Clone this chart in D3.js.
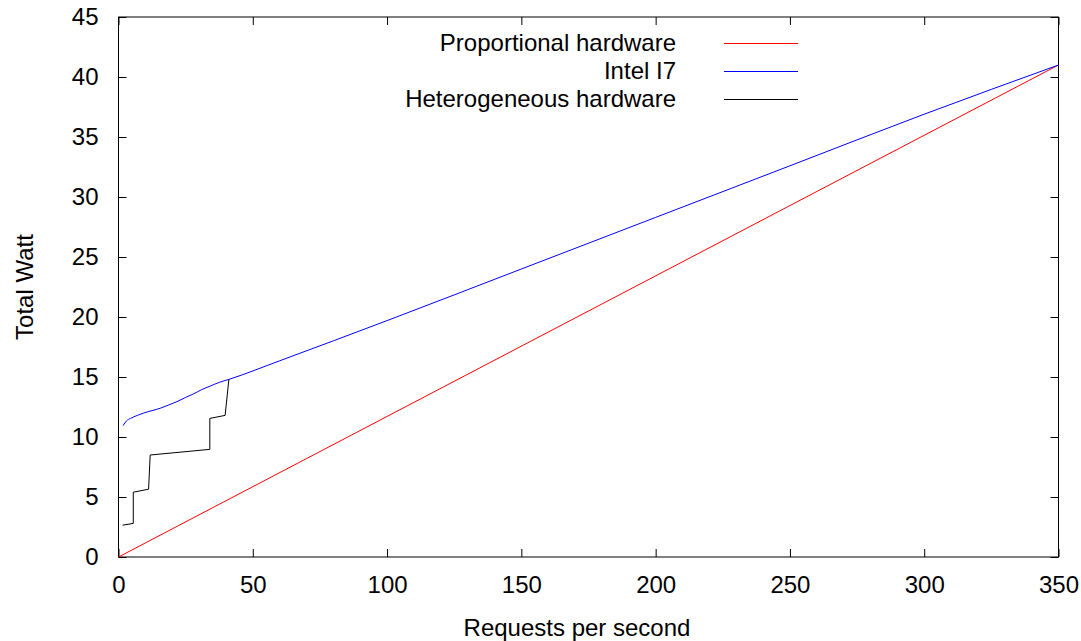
<!DOCTYPE html>
<html>
<head>
<meta charset="utf-8">
<script src="https://cdn.jsdelivr.net/npm/d3@7"></script>
<style>
  body { margin: 0; background: #fff; }
  svg text { font-family: "Liberation Sans", Arial, sans-serif; font-size: 24px; fill: #000; }
</style>
</head>
<body>
<svg class="main" width="1081" height="641"></svg>
<script>
// series (requests per second, total watt)
const proportional = [[0, 0], [350, 41]];
const intel = [
  [1.7, 10.95], [3, 11.35], [4.5, 11.55], [7, 11.8], [9.4, 12.0], [12.5, 12.2],
  [15.6, 12.4], [18.5, 12.65], [21.8, 12.95], [25, 13.3], [28, 13.6], [31, 13.95],
  [34.2, 14.25], [37.5, 14.55], [41.1, 14.8], [60, 16.35], [100, 19.7],
  [150, 24.0], [200, 28.3], [250, 32.6], [300, 36.9], [350, 41.0]
];
const hetero = [
  [1.5, 2.65], [5.5, 2.8], [5.5, 5.4], [11.2, 5.65], [11.8, 8.5], [34.0, 8.97],
  [34.0, 11.55], [39.7, 11.8], [41.1, 14.8]
];
const seriesNames = ["Proportional hardware", "Intel I7", "Heterogeneous hardware"];
const seriesColors = ["#ff0000", "#0000ff", "#000000"];
const xTicks = [0, 50, 100, 150, 200, 250, 300, 350];
const yTicks = [0, 5, 10, 15, 20, 25, 30, 35, 40, 45];

const margin = { left: 118.5, right: 1058.5, top: 17, bottom: 557 };
const svg = d3.select(".main");

const x = d3.scaleLinear().domain([0, 350]).range([margin.left, margin.right]);
const y = d3.scaleLinear().domain([0, 45]).range([margin.bottom, margin.top]);

// ticks on all four sides, gnuplot style (pointing inward)
const tick = 8;
const axisStyle = g => {
  g.select(".domain").remove();
  g.selectAll("line").attr("stroke", "#000");
  g.attr("font-size", null).attr("font-family", null);
};
svg.append("g")
  .attr("transform", `translate(0,${margin.bottom})`)
  .call(d3.axisBottom(x).tickValues(xTicks).tickSizeInner(-tick).tickSizeOuter(0).tickPadding(19))
  .call(axisStyle);
svg.append("g")
  .attr("transform", `translate(0,${margin.top})`)
  .call(d3.axisTop(x).tickValues(xTicks).tickSizeInner(-tick).tickSizeOuter(0).tickFormat(""))
  .call(axisStyle);
svg.append("g")
  .attr("transform", `translate(${margin.left},0)`)
  .call(d3.axisLeft(y).tickValues(yTicks).tickSizeInner(-tick).tickSizeOuter(0).tickPadding(20))
  .call(axisStyle);
svg.append("g")
  .attr("transform", `translate(${margin.right},0)`)
  .call(d3.axisRight(y).tickValues(yTicks).tickSizeInner(-tick).tickSizeOuter(0).tickFormat(""))
  .call(axisStyle);

// the border
svg.append("rect")
  .attr("x", margin.left).attr("y", margin.top)
  .attr("width", margin.right - margin.left).attr("height", margin.bottom - margin.top)
  .attr("fill", "none").attr("stroke", "#000").attr("stroke-width", 1);

const line = d3.line().x(d => x(d[0])).y(d => y(d[1]));
const intelLine = d3.line().x(d => x(d[0])).y(d => y(d[1])).curve(d3.curveMonotoneX);

svg.append("path").datum(proportional)
  .attr("d", line).attr("fill", "none").attr("stroke", seriesColors[0]).attr("stroke-width", 1);
svg.append("path").datum(intel)
  .attr("d", intelLine).attr("fill", "none").attr("stroke", seriesColors[1]).attr("stroke-width", 1);
svg.append("path").datum(hetero)
  .attr("d", line).attr("fill", "none").attr("stroke", seriesColors[2]).attr("stroke-width", 1);

// legend
const legend = svg.append("g");
seriesNames.forEach((name, i) => {
  const ly = 43 + i * 28;
  legend.append("text")
    .attr("x", 676).attr("y", ly).attr("dy", "0.35em")
    .attr("text-anchor", "end").text(name);
  legend.append("line")
    .attr("x1", 724).attr("x2", 798).attr("y1", ly + 0.5).attr("y2", ly + 0.5)
    .attr("stroke", seriesColors[i]).attr("stroke-width", 1);
});

// axis titles
svg.append("text")
  .attr("x", 577).attr("y", 636)
  .attr("text-anchor", "middle").text("Requests per second");
svg.append("text")
  .attr("transform", "translate(33,287) rotate(-90)")
  .attr("text-anchor", "middle").text("Total Watt");
</script>
</body>
</html>
